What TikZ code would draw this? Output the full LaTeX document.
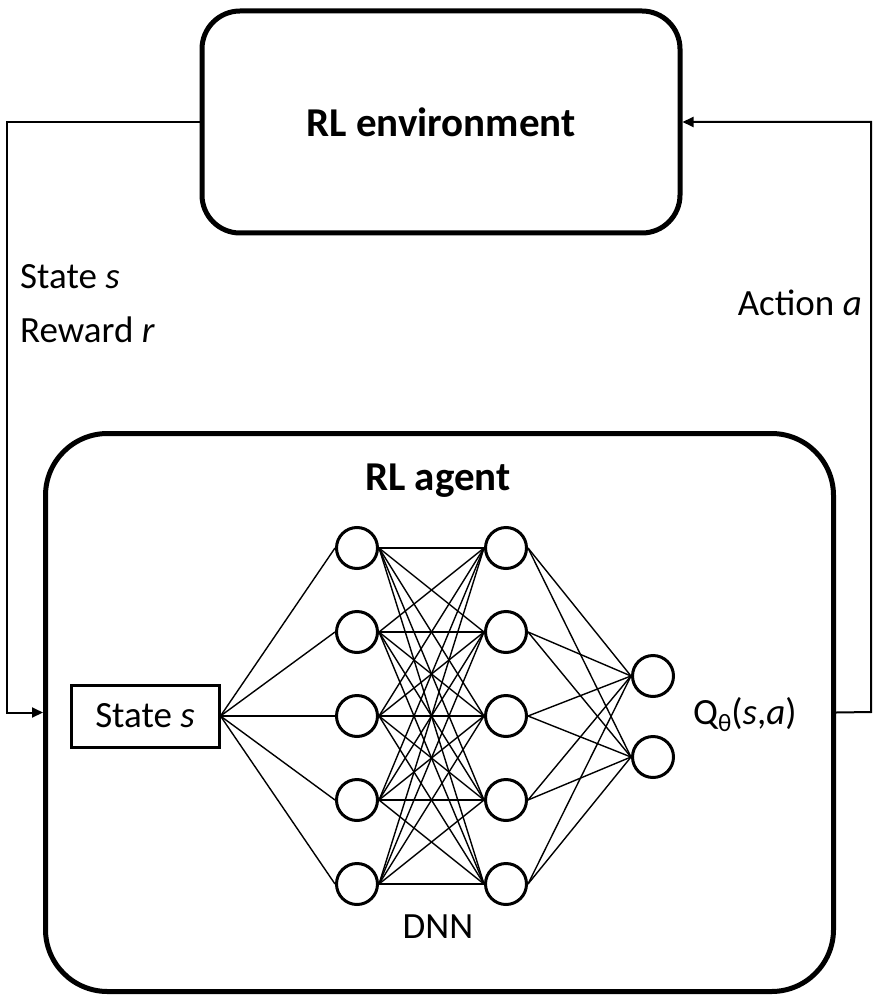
\documentclass[tikz,border=0pt]{standalone}
\usepackage{fontspec}
\setmainfont{Carlito}
\usetikzlibrary{arrows.meta}
\begin{document}
\begin{tikzpicture}[x=1pt,y=-1pt,
  bigbox/.style={draw,line width=5pt,rounded corners=#1},
  neuron/.style={draw,circle,line width=3pt,minimum size=41pt,inner sep=0pt},
  edge/.style={line width=1.4pt},
  conn/.style={line width=2pt,-{Triangle[length=11pt,width=10pt]}},
  lbl/.style={font=\fontsize{37}{42}\selectfont,inner sep=0pt},
  title/.style={font=\fontsize{41}{46}\selectfont\bfseries,inner sep=0pt}]
\useasboundingbox (0,0) rectangle (876,1000);
\node[bigbox=38pt,minimum width=478pt,minimum height=222pt] (env) at (441,122) {};
\node[title] (envt) at (441,122) {RL environment};
\node[bigbox=62pt,minimum width=788pt,minimum height=558pt] (agent) at (439.5,712.5) {};
\node[title] (agentt) at (438,481) {RL agent};
\node[draw,line width=3pt,minimum width=148pt,minimum height=62pt,inner sep=0pt] (st) at (145,716) {};
\node[lbl] (stt) at (145,716) {State \textit{s}};
\foreach \i/\y in {1/548,2/632,3/716,4/800,5/884}{
  \node[neuron] (a\i) at (357,\y) {};
  \node[neuron] (b\i) at (506,\y) {};
}
\node[neuron] (c1) at (653,676) {};
\node[neuron] (c2) at (653,757) {};
\foreach \i in {1,...,5}{
  \draw[edge] (st.east) -- (a\i.west);
  \foreach \j in {1,...,5}{\draw[edge] (a\i.east) -- (b\j.west);}
  \foreach \j in {1,2}{\draw[edge] (b\i.east) -- (c\j.west);}
}
\node[lbl] (dnn) at (438,927) {DNN};
\node[lbl,anchor=base west] (q) at (693,724) {Q\raisebox{-7pt}{\fontsize{25}{25}\selectfont θ}(\textit{s},\textit{a})};
\coordinate (lc) at (7,122);
\coordinate (rc) at (871,712);
\draw[conn] (env.west) -- (lc) |- (agent.west);
\draw[conn] (agent.east) -- (rc) |- (env.east);
\node[lbl,anchor=base west] (l1) at (20,288) {State \textit{s}};
\node[lbl,anchor=base west] (l2) at (20,342) {Reward \textit{r}};
\node[lbl,anchor=base east] (l3) at (862,315) {Action \textit{a}};
\end{tikzpicture}
\end{document}
